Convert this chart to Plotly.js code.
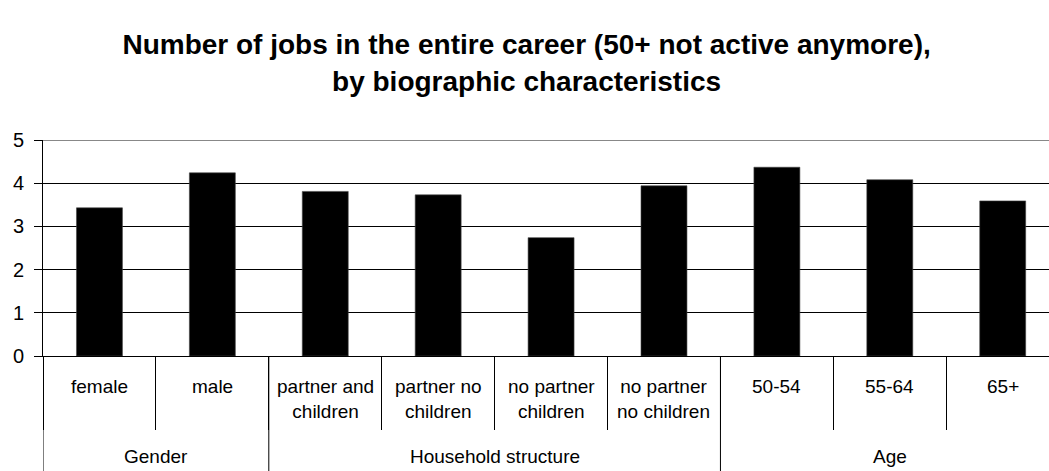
<!DOCTYPE html>
<html>
<head>
<meta charset="utf-8">
<script src="https://cdn.plot.ly/plotly-3.0.1.min.js"></script>
<style>
  html, body { margin: 0; padding: 0; background: #fff; }
  #chart { width: 1049px; height: 471px; }
</style>
</head>
<body>
<div id="chart"></div>
<script>
// Average number of jobs held over the whole career, people aged 50+ no longer working
const categories = ['female', 'male', 'partner and children', 'partner no children',
  'no partner children', 'no partner no children', '50-54', '55-64', '65+'];
const tickLabels = ['female', 'male', 'partner and<br>children', 'partner no<br>children',
  'no partner<br>children', 'no partner<br>no children', '50-54', '55-64', '65+'];
const jobs = [3.43, 4.24, 3.81, 3.73, 2.74, 3.94, 4.37, 4.08, 3.59];
const groupNames = ['Gender', 'Household structure', 'Age'];
const groupSizes = [2, 4, 3];
const yTicks = [0, 1, 2, 3, 4, 5];

const FONT = 'Liberation Sans, Arial, sans-serif';

const annotations = [];
const shapes = [];

// first-level labels under each bar
categories.forEach((c, i) => {
  annotations.push({
    x: i, xref: 'x', y: 0, yref: 'paper', yanchor: 'top', xanchor: 'center',
    yshift: -18, text: tickLabels[i], showarrow: false,
    font: { family: FONT, size: 19, color: '#000' }
  });
});

// group labels and the long dividers between groups
let start = 0;
groupNames.forEach((g, k) => {
  const end = start + groupSizes[k] - 1;
  annotations.push({
    x: (start + end) / 2, xref: 'x', y: 0, yref: 'paper', yanchor: 'top', xanchor: 'center',
    yshift: -88, text: g, showarrow: false,
    font: { family: FONT, size: 19, color: '#000' }
  });
  shapes.push({
    type: 'line', xref: 'x', yref: 'paper', x0: start - 0.5, x1: start - 0.5,
    y0: 0, y1: -0.6, line: { color: '#000', width: 1 }
  });
  start += groupSizes[k];
});

// top border line at the axis maximum
shapes.push({
  type: 'line', xref: 'paper', yref: 'y', x0: 0, x1: 1, y0: 5, y1: 5,
  line: { color: '#888', width: 2 }
});

const trace = {
  type: 'bar',
  x: categories,
  y: jobs,
  marker: { color: '#000', line: { color: '#444', width: 0.6 } },
  hoverinfo: 'x+y'
};

const layout = {
  width: 1049,
  height: 471,
  margin: { l: 43, r: 0, t: 140, b: 115 },
  paper_bgcolor: '#fff',
  plot_bgcolor: '#fff',
  showlegend: false,
  bargap: 0.593,
  title: {
    text: 'Number of jobs in the entire career (50+ not active anymore),<br>by biographic characteristics',
    font: { family: FONT, size: 28, color: '#000', weight: 'bold' },
    x: 0.502, xanchor: 'center', xref: 'container',
    y: 0.885, yanchor: 'top', yref: 'container'
  },
  xaxis: {
    type: 'category',
    range: [-0.5, 8.41],
    showticklabels: false,
    ticks: 'outside',
    tickson: 'boundaries',
    ticklen: 73,
    tickwidth: 1,
    tickcolor: '#000',
    showline: true,
    linecolor: '#000',
    linewidth: 1,
    showgrid: false,
    zeroline: false,
    fixedrange: true
  },
  yaxis: {
    range: [0, 5],
    tickvals: yTicks,
    ticktext: yTicks.map(String),
    ticks: 'outside',
    ticklen: 8,
    tickwidth: 1,
    tickcolor: '#000',
    ticklabelstandoff: 6,
    tickfont: { family: FONT, size: 20, color: '#000' },
    showline: true,
    linecolor: '#000',
    linewidth: 1,
    showgrid: true,
    gridcolor: '#000',
    gridwidth: 1,
    zeroline: false,
    fixedrange: true
  },
  annotations: annotations,
  shapes: shapes
};

Plotly.newPlot('chart', [trace], layout, { displayModeBar: false, staticPlot: true });
</script>
</body>
</html>
